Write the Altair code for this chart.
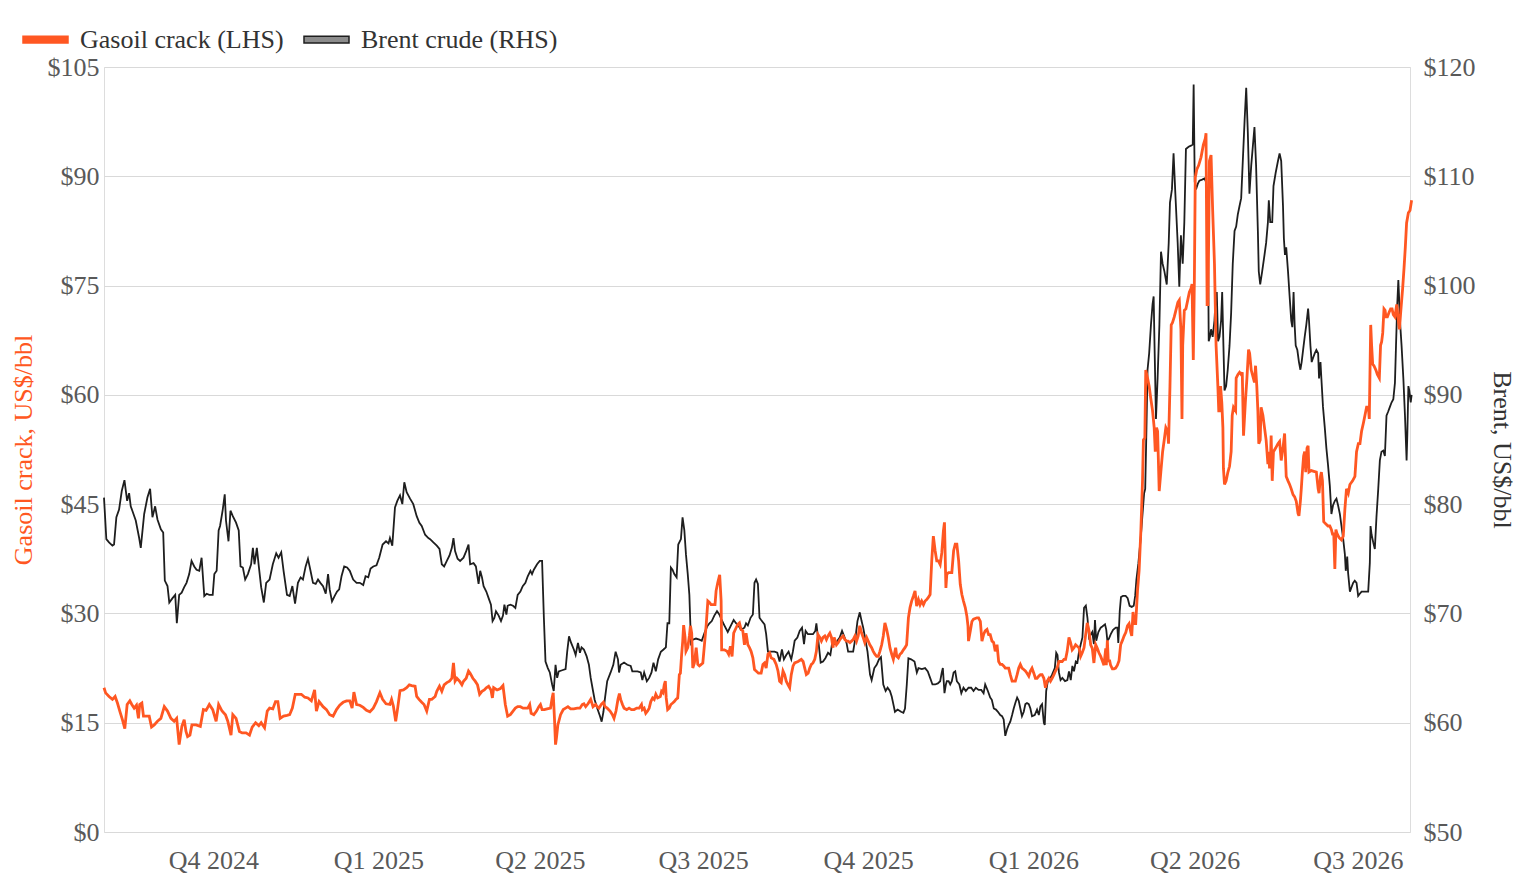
import altair as alt
import pandas as pd

FONT = "Liberation Serif"
ORANGE = "#FF5722"
BLACK = "#1e1e1e"
SERIES_G = "Gasoil crack (LHS)"
SERIES_B = "Brent crude (RHS)"
START = "2024-08-01"

# ---- Brent crude, US$/bbl (days after 1 Aug 2024, value) ----
brent_days_a = [0, 1.3, 2.8, 4.7, 5.6, 6.9, 8.4, 9.9, 11.4, 12.9,
                14.0, 14.9, 15.8, 17.7, 19.6, 20.5, 22.4, 24.2, 25.7, 27.0,
                28.5, 29.8, 31.7, 33.0, 33.9, 35.4, 36.4, 38.2, 39.7, 40.6,
                41.9, 43.3, 44.7, 46.0, 47.5, 48.8, 50.3, 51.6, 53.1, 54.4,
                55.9, 57.2, 58.7, 60.6, 61.5, 62.8, 63.9, 64.7, 66.2, 67.3,
                68.0, 69.4, 70.5, 71.8, 73.6, 75.1, 76.1, 77.4, 78.7, 80.2,
                82.0, 83.0, 83.9, 85.2, 86.3, 87.6, 89.1, 90.4, 92.3, 94.1,
                96.0, 97.3, 98.8, 100.1, 102.0, 103.5, 105.0, 106.5, 108.1, 109.6,
                110.9, 112.4, 113.7, 115.0, 116.5, 118.0, 119.3, 120.6, 122.1, 123.6,
                124.9, 125.8, 127.1, 128.6, 129.9, 131.1, 132.4, 133.9, 135.5, 137.0,
                138.9, 140.8, 142.6, 144.5, 145.8, 147.3, 148.6, 150.1, 151.9, 153.4,
                155.3, 157.2, 158.6, 159.4, 160.7, 162.2, 163.5, 165.0, 166.3, 167.4,
                168.7, 170.6, 172.4, 174.3, 175.8, 177.1, 179.0, 180.8, 181.8, 183.6,
                185.5, 187.0]
brent_usd_a = [80.6, 76.8, 76.5, 76.2, 76.3, 78.8, 79.5, 81.2, 82.2, 80.3,
               81.0, 79.8, 79.4, 78.5, 76.9, 76.0, 79.1, 80.6, 81.4, 78.8,
               79.8, 78.6, 77.7, 77.4, 73.0, 72.5, 71.0, 71.4, 71.7, 69.1,
               71.7, 71.9, 72.4, 72.8, 73.6, 74.8, 74.3, 74.0, 73.9, 75.1,
               71.6, 71.8, 71.7, 71.7, 73.6, 73.9, 77.6, 78.0, 79.5, 80.9,
               78.5, 76.6, 79.4, 78.9, 78.3, 77.6, 74.3, 74.2, 73.1, 73.6,
               74.5, 76.0, 74.5, 76.0, 74.3, 72.4, 71.0, 72.8, 73.1, 74.5,
               75.5, 75.1, 75.6, 73.9, 71.7, 71.6, 72.5, 70.9, 72.8, 73.3,
               73.1, 74.3, 75.0, 74.0, 72.8, 72.7, 73.1, 72.8, 72.5, 71.8,
               73.6, 72.2, 71.1, 71.6, 72.0, 72.2, 73.4, 74.3, 74.2, 73.9,
               73.1, 72.8, 72.8, 72.6, 73.4, 73.3, 74.1, 74.3, 74.4, 75.1,
               76.3, 76.6, 76.4, 76.9, 76.2, 79.7, 80.3, 80.8, 80.0, 82.0,
               81.1, 80.5, 80.0, 78.9, 78.3, 78.0, 77.2, 76.9, 76.8, 76.5,
               76.2, 75.9]

brent_days_b = [188.3, 189.6, 191.1, 192.6, 193.9, 194.8, 195.7, 197.1, 198.5, 200.4,
                201.9, 203.2, 204.1, 206.0, 207.3, 208.8, 209.7, 210.7, 211.6, 213.1,
                214.4, 215.7, 216.6, 217.6, 218.5, 220.0, 221.3, 222.4, 223.2, 224.3,
                225.0, 226.5, 228.0, 229.3, 230.6, 232.1, 233.4, 234.9, 236.2, 237.7,
                238.6, 239.6, 241.4, 242.9, 244.2, 245.2, 246.1, 247.4, 248.5, 249.8,
                250.7, 251.7, 252.6, 253.5, 255.4, 257.3, 258.2, 259.2, 260.4, 261.9,
                262.9, 264.2, 265.3, 266.2, 267.5, 269.0, 270.3, 271.3, 272.6, 273.5,
                275.0, 276.5, 277.4, 278.4, 279.3, 280.5, 282.4, 283.9, 285.2, 286.5,
                287.1, 288.0, 289.9, 291.7, 293.6, 294.5, 295.9, 297.4, 299.2, 300.1,
                301.1, 302.6, 303.9, 305.2, 306.3, 307.6, 308.9, 310.4, 311.9, 313.2,
                314.1, 315.1, 316.0, 316.9, 317.9, 319.2, 320.1, 321.6, 322.5, 323.5,
                324.4, 325.4, 326.3, 327.2, 328.2, 330.0, 331.9, 333.2, 334.7, 336.2,
                337.5, 338.8, 340.2, 341.7, 343.0, 344.3, 345.8, 347.7, 349.5, 351.0,
                352.3, 353.6, 355.1, 357.0, 357.9, 358.9, 360.4, 361.7, 362.6, 363.5,
                364.5, 365.4]
brent_usd_b = [74.5, 74.3, 74.8, 75.3, 76.0, 76.9, 75.7, 75.0, 74.8, 75.1,
               75.7, 76.3, 74.5, 74.6, 74.3, 72.7, 73.9, 73.3, 72.5, 72.0,
               71.4, 70.8, 69.3, 69.6, 70.2, 69.8, 69.3, 69.8, 70.8, 69.9,
               70.7, 70.8, 70.7, 70.5, 71.7, 72.0, 72.5, 72.8, 73.4, 73.9,
               73.6, 74.0, 74.5, 74.8, 74.8, 69.6, 65.6, 65.0, 64.6, 63.5,
               62.9, 65.3, 64.1, 64.7, 64.8, 64.9, 66.5, 67.9, 67.3, 66.7,
               66.2, 67.3, 66.4, 66.9, 66.7, 66.1, 65.3, 64.1, 62.9, 62.1,
               61.3, 60.6, 60.1, 61.0, 62.3, 63.8, 64.6, 65.3, 66.5, 65.8,
               64.6, 65.3, 65.5, 65.3, 65.2, 64.7, 64.7, 64.7, 64.6, 63.9,
               64.6, 63.8, 64.1, 64.6, 65.5, 64.7, 65.8, 66.5, 66.7, 66.9,
               69.1, 69.1, 74.2, 74.0, 73.6, 73.3, 76.3, 76.8, 78.8, 77.6,
               75.4, 73.6, 71.7, 67.3, 67.6, 67.7, 67.6, 67.5, 68.2, 68.8,
               69.1, 69.3, 69.8, 70.2, 69.9, 69.4, 68.9, 68.3, 68.9, 69.4,
               69.1, 68.9, 68.5, 68.7, 69.1, 68.9, 69.6, 69.9, 72.8, 73.1,
               72.7, 69.6]

brent_days_c = [366.3, 368.2, 369.1, 370.1, 371.6, 373.8, 375.3, 376.6, 377.9, 379.0,
                380.3, 381.6, 383.1, 384.0, 385.0, 386.5, 387.8, 389.1, 390.2, 391.1,
                392.4, 393.9, 395.2, 396.5, 397.1, 398.0, 399.5, 400.8, 402.1, 403.6,
                404.9, 405.8, 407.3, 408.8, 410.1, 411.4, 412.6, 413.9, 414.8, 416.3,
                417.6, 418.9, 420.0, 421.3, 422.3, 423.2, 424.2, 425.6, 427.0, 427.9,
                429.4, 430.7, 432.0, 433.1, 434.4, 435.7, 436.8, 438.1, 439.1, 440.0,
                440.9, 442.4, 444.3, 445.6, 446.5, 447.5, 448.4, 449.9, 451.8, 453.1,
                454.0, 455.9, 457.7, 459.2, 460.5, 461.8, 463.3, 464.8, 466.1, 467.0,
                467.6, 468.5, 469.3, 469.8, 470.8, 471.7, 472.6, 473.6, 474.5, 475.4,
                476.8, 477.9, 479.1, 480.4, 481.9, 483.4, 484.7, 486.0, 487.5, 489.0,
                490.3, 491.2, 492.7, 494.0, 494.9, 496.0, 497.2, 498.3, 499.6, 500.6,
                501.5, 502.4, 503.4, 504.3, 505.2, 506.2, 507.1, 508.0, 509.0, 509.9,
                510.8, 511.7, 512.7, 513.6, 514.5, 515.5, 516.4, 517.3, 518.8, 520.1,
                521.1, 522.0, 522.9, 523.9, 524.4, 525.2, 525.9, 526.7, 527.6, 528.5,
                530.0, 530.8, 531.5, 532.3, 533.2, 534.2, 535.7, 537.0, 537.9, 538.9,
                539.8, 540.7, 541.7, 542.6, 543.5, 544.5, 545.4, 546.3, 547.3, 548.2,
                549.1]
brent_usd_c = [69.4, 69.0, 68.1, 66.5, 66.5, 66.5, 66.4, 65.6, 66.7, 65.8,
               66.2, 66.5, 65.8, 66.5, 67.5, 67.8, 68.4, 68.7, 67.2, 68.4,
               68.1, 68.1, 68.1, 68.4, 69.1, 67.8, 65.5, 65.6, 65.9, 66.4,
               66.2, 67.2, 67.2, 67.5, 67.8, 68.4, 67.9, 67.3, 66.5, 66.5,
               66.5, 67.8, 69.3, 70.1, 69.3, 68.7, 67.8, 66.5, 64.4, 63.9,
               65.0, 65.3, 65.8, 66.0, 63.5, 62.9, 63.2, 62.9, 62.4, 61.7,
               61.0, 61.2, 61.0, 60.9, 61.3, 63.5, 65.9, 65.8, 65.6, 64.6,
               65.0, 64.9, 65.0, 64.7, 64.1, 63.5, 63.5, 63.6, 63.8, 64.6,
               65.0, 62.7, 63.5, 63.8, 63.8, 63.5, 63.8, 64.6, 64.7, 63.8,
               63.5, 62.7, 63.2, 62.9, 63.2, 63.2, 62.9, 63.2, 63.0, 63.0,
               62.7, 63.5, 62.9, 62.3, 62.1, 61.3, 61.2, 61.0, 60.7, 60.6,
               60.3, 58.8, 59.4, 59.8, 60.1, 60.7, 61.3, 61.8, 62.3, 62.0,
               61.3, 60.6, 61.0, 61.7, 61.8, 61.7, 61.3, 60.6, 60.7, 61.2,
               60.7, 61.5, 61.7, 60.0, 59.8, 62.9, 63.6, 64.1, 64.1, 64.4,
               65.0, 66.4, 66.2, 64.6, 63.9, 64.1, 63.8, 63.9, 64.7, 63.9,
               65.2, 64.7, 65.6, 65.5, 66.5, 67.2, 67.8, 70.5, 70.7, 69.6,
               67.8]

brent_days_d = [550.9, 551.8, 552.4, 553.1, 554.3, 555.6, 556.5, 558.0, 558.7, 559.3,
                560.2, 561.2, 562.5, 564.0, 564.9, 565.4, 566.2, 566.9, 568.0, 569.5,
                570.6, 571.7, 572.9, 574.0, 574.8, 575.5, 576.6, 577.9, 578.9, 579.8,
                580.4, 581.1, 581.7, 582.6, 583.6, 584.5, 585.1, 585.6, 586.4, 587.3,
                588.3, 589.2, 590.1, 591.1, 592.4, 593.5, 594.2, 595.3, 596.2, 597.2,
                598.5, 599.4, 600.3, 601.3, 602.2, 603.1, 604.6, 605.9, 606.9, 607.4,
                608.0, 608.7, 609.7, 610.6, 612.1, 613.4, 614.3, 615.3, 615.8, 616.5,
                617.1, 618.0, 619.0, 619.5, 620.3, 621.0, 621.8, 622.7, 623.3, 624.0,
                624.6, 625.5, 626.4, 627.4, 628.3, 629.2, 630.2, 631.1, 632.0, 633.0,
                633.9, 634.8, 635.8, 636.7, 637.6, 638.5, 639.5]
brent_usd_d = [68.3, 67.2, 69.4, 67.5, 68.3, 68.7, 68.8, 69.0, 68.5, 67.5,
               67.7, 68.1, 68.5, 68.7, 68.7, 67.3, 70.2, 71.5, 71.6, 71.6,
               71.4, 70.7, 70.6, 70.7, 71.6, 73.1, 74.6, 76.9, 79.1, 81.0,
               81.4, 87.0, 92.3, 93.8, 96.4, 98.3, 99.0, 94.5, 87.8, 91.5,
               96.4, 103.1, 102.0, 101.3, 100.1, 103.9, 107.6, 108.8, 112.1, 108.4,
               103.9, 99.9, 104.6, 102.0, 105.8, 112.5, 112.7, 112.8, 112.9, 118.4,
               109.5, 108.8, 109.3, 109.6, 109.7, 109.8, 109.5, 106.5, 94.9, 95.3,
               96.0, 95.3, 96.8, 98.3, 99.4, 94.9, 95.3, 96.8, 99.4, 94.5,
               90.4, 90.8, 92.3, 94.5, 97.5, 102.0, 105.0, 105.4, 106.5, 107.3,
               108.0, 111.4, 115.1, 118.1, 114.0, 108.4, 111.0]

brent_days_e = [641.3, 642.2, 643.2, 643.7, 644.5, 645.6, 646.9, 647.8, 648.8, 649.3,
                650.1, 651.2, 651.9, 653.1, 654.4, 655.3, 656.2, 657.2, 657.7, 658.3,
                659.0, 660.0, 660.9, 661.8, 662.4, 663.1, 663.7, 664.3, 665.2, 666.1,
                666.9, 667.6, 668.4, 669.3, 670.2, 671.2, 671.7, 672.5, 673.2, 674.0,
                674.9, 675.8, 676.8, 677.3, 678.1, 678.6, 679.5, 680.5, 681.4, 682.3,
                683.3, 684.2, 685.1, 686.1, 687.0, 687.9, 688.9, 689.8, 690.7, 691.7,
                692.2, 693.0, 693.5, 694.5, 695.4, 696.3, 697.2, 698.2, 699.1, 700.0,
                701.0, 701.9, 703.8, 704.7, 705.6, 706.0, 706.6, 707.5, 708.4, 709.3,
                710.3, 711.2, 712.1, 713.1, 714.0, 714.9, 715.9, 716.8, 717.7, 718.7,
                719.6, 720.2, 720.9, 721.5, 722.0, 722.4, 723.3, 724.3, 725.2, 726.1,
                726.5, 727.1, 727.6, 728.4, 728.9]
brent_usd_e = [114.5, 111.0, 105.0, 101.3, 100.1, 101.3, 102.8, 103.9, 105.8, 107.8,
               105.8, 105.8, 109.1, 110.3, 111.4, 112.1, 111.4, 107.3, 104.3, 102.8,
               103.5, 101.3, 99.0, 96.8, 96.2, 99.4, 96.4, 94.5, 94.1, 93.0,
               92.3, 93.0, 94.1, 95.3, 96.4, 97.9, 96.8, 94.5, 93.0, 93.4,
               93.8, 94.1, 93.8, 91.5, 93.0, 91.5, 88.9, 87.0, 85.1, 83.6,
               81.7, 79.1, 79.9, 80.3, 80.5, 79.9, 79.1, 78.0, 76.9, 75.4,
               73.9, 75.2, 73.7, 72.0, 72.4, 72.8, 73.0, 72.8, 71.6, 71.8,
               72.0, 72.0, 72.0, 72.0, 74.6, 78.0, 77.2, 76.5, 75.9, 78.8,
               81.4, 84.0, 84.8, 84.9, 84.4, 88.1, 88.5, 88.9, 89.3, 89.6,
               91.1, 94.5, 98.3, 100.5, 98.6, 96.8, 94.5, 91.5, 88.1, 84.0,
               86.3, 90.8, 90.4, 89.3, 90.0]

# ---- Gasoil crack, US$/bbl ----
gasoil_days_a = [0, 0.9, 2.8, 4.7, 6.2, 7.5, 8.8, 10.3, 11.6, 12.9,
                 14.4, 15.5, 16.8, 18.1, 19.2, 19.9, 21.1, 22.0, 23.3, 25.2,
                 26.5, 28.0, 29.8, 31.7, 33.6, 35.4, 37.3, 39.1, 40.5, 41.9,
                 43.4, 44.7, 45.7, 46.6, 47.9, 49.0, 51.3, 53.7, 55.4, 56.9,
                 58.7, 60.6, 62.5, 63.9, 65.8, 67.7, 69.0, 70.8, 71.8, 73.6,
                 75.5, 77.0, 79.2, 81.1, 82.6, 84.5, 86.3, 87.6, 89.5, 91.0,
                 92.3, 94.1, 95.6, 96.9, 98.2, 100.1, 102.0, 103.5, 105.0, 106.6,
                 108.1, 110.0, 111.9, 113.7, 115.6, 117.4, 118.4, 119.9, 122.1, 124.0,
                 125.8, 127.7, 129.6, 131.4, 133.3, 135.2, 137.0, 138.3, 139.3, 140.8,
                 142.6, 144.5, 146.3, 148.2, 150.1, 151.9, 153.8, 155.3, 157.2, 159.4,
                 160.3, 161.3, 162.6, 163.7, 165.0, 166.9, 168.7, 170.2, 171.5, 173.4,
                 174.3, 175.6, 177.1, 178.4, 179.9, 181.4, 182.7, 184.6, 185.5, 187.0]
gasoil_usd_a = [19.8, 19.1, 18.6, 18.2, 18.6, 17.7, 16.6, 15.4, 14.2, 17.5,
                18.0, 17.5, 17.0, 17.4, 15.6, 17.5, 17.7, 15.9, 15.9, 15.9,
                14.4, 14.7, 15.2, 15.6, 17.2, 16.6, 15.6, 15.2, 15.6, 12.0,
                14.5, 15.4, 13.8, 13.1, 13.3, 14.7, 14.7, 14.5, 16.8, 16.7,
                17.5, 16.8, 15.2, 17.5, 16.6, 16.1, 15.2, 13.3, 16.1, 15.6,
                13.8, 13.6, 13.6, 13.3, 14.4, 15.0, 14.6, 15.0, 14.3, 16.6,
                17.0, 16.9, 17.9, 17.9, 15.6, 15.9, 16.0, 16.1, 17.0, 18.9,
                18.9, 18.9, 18.5, 18.4, 18.0, 19.5, 16.6, 17.9, 17.2, 16.8,
                16.1, 15.9, 16.8, 17.4, 17.8, 18.0, 18.0, 17.0, 19.2, 17.5,
                17.4, 17.1, 16.7, 16.5, 17.0, 17.9, 19.1, 18.2, 17.6, 17.5,
                18.2, 17.3, 15.2, 17.0, 19.4, 19.5, 19.8, 20.2, 20.1, 20.0,
                18.6, 18.2, 17.8, 17.5, 16.6, 18.2, 18.2, 18.6, 19.3, 20.0]

gasoil_days_b = [188.3, 189.6, 191.1, 192.6, 193.9, 194.8, 195.7, 196.7, 198.2, 199.5,
                 200.4, 201.9, 203.2, 204.1, 205.6, 206.9, 208.2, 209.4, 210.7, 212.0,
                 213.1, 214.4, 215.7, 216.5, 217.2, 219.1, 221.0, 222.4, 223.7, 225.0,
                 226.5, 228.0, 229.3, 230.6, 232.1, 233.6, 234.9, 236.2, 237.3, 238.1,
                 239.6, 241.1, 242.4, 243.3, 244.2, 245.5, 247.0, 248.9, 249.8, 250.4,
                 251.1, 251.7, 252.2, 253.0, 254.5, 256.0, 257.3, 258.6, 260.1, 261.9,
                 263.8, 265.3, 266.6, 267.5, 268.5, 269.8, 271.3, 272.6, 274.0, 275.0,
                 275.9, 277.2, 278.4, 279.3, 280.5, 282.1, 283.4, 284.3, 285.4, 286.5,
                 287.3, 288.0, 289.0, 289.9, 291.4, 292.7, 294.0, 295.5, 297.0, 298.3,
                 299.6, 300.1, 301.1, 302.0, 303.0, 303.9, 304.8, 305.8, 306.7, 307.6,
                 308.6, 310.1, 310.8, 311.6, 312.3, 312.9, 313.4, 314.2, 315.1, 316.0,
                 317.0, 317.9, 318.8, 319.8, 320.1, 320.7, 321.3, 322.0, 322.6, 323.1,
                 323.9, 324.4, 325.4, 326.3, 326.9, 327.6, 328.2, 329.1, 330.1, 331.0,
                 331.9, 332.9, 333.8, 334.7, 335.7, 336.6, 337.5, 338.4, 339.9, 340.6,
                 341.2, 342.1, 343.2, 344.0, 344.3, 345.8, 347.3, 348.2, 349.2, 350.1,
                 351.0, 352.3, 353.3, 354.2, 355.1, 356.1, 357.0, 357.9, 358.9, 359.8,
                 360.7, 361.7, 362.6, 363.5, 364.8]
gasoil_usd_b = [19.3, 20.2, 20.5, 20.7, 21.1, 23.2, 20.7, 21.1, 20.7, 20.2,
                20.7, 21.1, 22.1, 21.8, 21.1, 20.7, 20.2, 18.9, 19.3, 19.5,
                19.8, 20.0, 19.5, 18.4, 19.8, 19.5, 19.7, 20.1, 17.5, 15.9,
                16.1, 16.6, 17.0, 17.2, 17.2, 17.0, 17.0, 17.0, 17.5, 16.3,
                16.1, 16.6, 17.2, 17.5, 16.8, 16.8, 16.9, 17.0, 18.4, 19.1,
                15.6, 12.0, 12.9, 14.7, 16.1, 16.8, 17.0, 17.2, 16.9, 16.9,
                17.0, 17.0, 17.5, 17.6, 17.2, 17.6, 18.2, 17.2, 17.5, 17.2,
                17.0, 17.5, 17.8, 17.2, 17.0, 16.6, 16.1, 15.6, 16.6, 18.2,
                19.0, 18.2, 17.5, 17.0, 16.8, 17.0, 16.8, 16.8, 17.0, 17.0,
                17.5, 16.8, 17.0, 16.3, 16.6, 17.0, 17.9, 18.4, 18.2, 18.9,
                18.4, 18.6, 19.3, 19.1, 20.2, 20.7, 18.4, 16.8, 17.0, 17.5,
                17.7, 17.9, 18.2, 18.4, 19.3, 21.6, 21.8, 24.4, 26.2, 28.4,
                26.7, 24.8, 25.3, 26.9, 28.3, 27.3, 22.5, 23.2, 25.3, 23.0,
                22.8, 23.0, 23.2, 25.7, 28.5, 31.7, 31.5, 31.2, 31.2, 31.2,
                33.1, 34.2, 35.3, 31.7, 25.0, 25.0, 24.8, 24.4, 25.5, 24.1,
                27.3, 28.0, 28.5, 28.7, 27.8, 27.6, 25.7, 27.3, 25.7, 25.3,
                24.8, 23.9, 22.3, 22.1, 21.8]

gasoil_days_c = [366.3, 367.3, 368.2, 369.1, 370.1, 371.0, 371.9, 373.4, 374.7, 375.7,
                 376.6, 377.5, 378.5, 379.4, 380.3, 381.3, 382.2, 383.1, 384.1, 385.0,
                 386.9, 388.7, 389.7, 390.6, 391.5, 392.5, 393.4, 394.3, 395.2, 396.2,
                 397.1, 398.0, 399.0, 399.9, 400.8, 401.8, 402.7, 403.6, 404.6, 405.5,
                 406.4, 407.0, 408.3, 409.3, 410.2, 411.1, 412.0, 413.0, 413.9, 414.8,
                 415.8, 416.7, 417.6, 418.6, 419.5, 420.4, 421.3, 422.3, 423.2, 424.1,
                 425.1, 426.0, 426.9, 427.9, 428.8, 429.7, 430.7, 431.6, 432.5, 433.5,
                 434.4, 435.3, 436.3, 437.2, 438.1, 439.1, 440.0, 440.9, 441.3, 441.9,
                 442.8, 443.7, 444.6, 445.6, 446.5, 447.4, 448.4, 449.3, 450.2, 451.2,
                 452.1, 453.0, 454.0, 454.9, 455.8, 456.8, 457.7, 458.6, 459.5, 460.5,
                 461.4, 462.3, 463.3, 464.2, 465.1, 466.1, 467.0, 467.9, 468.5, 469.3,
                 469.8, 470.8, 471.7, 472.6, 473.6, 474.5, 475.4, 476.4, 477.3, 478.2,
                 479.1, 480.1, 481.0, 481.6, 481.9, 482.9, 483.8, 484.7, 486.6, 487.5,
                 488.5, 489.4, 490.3, 491.2, 492.2, 493.1, 494.0, 495.0, 495.9, 496.8,
                 497.8, 498.7, 499.6, 500.6, 501.5, 502.4, 504.3, 505.2, 506.2, 507.1,
                 508.0, 509.0, 509.9, 510.8, 511.7, 512.7, 513.6, 514.5, 515.5, 516.4,
                 517.3, 518.3, 519.2, 520.1, 521.1, 522.0, 522.9, 523.9, 524.8, 525.7,
                 526.7, 527.6, 528.5, 529.5, 530.4, 531.3, 532.3, 533.2, 534.1, 535.1,
                 536.0, 536.9, 537.9, 538.8, 539.7, 540.7, 541.6, 542.5, 543.5, 544.4,
                 545.3, 546.3, 547.2, 548.1, 549.1, 550.0]
gasoil_usd_c = [21.8, 23.0, 23.2, 22.5, 24.4, 24.6, 23.9, 23.7, 23.0, 22.1,
                20.7, 20.5, 22.1, 21.6, 20.7, 20.2, 19.8, 21.6, 22.8, 23.2,
                23.4, 23.7, 23.4, 22.5, 21.6, 21.8, 22.5, 23.0, 23.2, 23.7,
                24.8, 27.1, 26.7, 26.2, 26.7, 26.9, 26.4, 26.9, 27.3, 26.7,
                25.3, 26.7, 25.7, 26.0, 26.4, 26.7, 26.9, 26.4, 26.2, 26.2,
                26.0, 26.2, 26.4, 26.9, 26.2, 26.9, 28.3, 27.3, 26.7, 26.0,
                26.7, 26.2, 25.7, 25.3, 24.8, 24.4, 24.1, 24.1, 24.8, 25.7,
                26.9, 28.7, 27.8, 26.7, 25.3, 24.4, 23.7, 24.8, 25.3, 24.1,
                23.9, 24.4, 24.6, 25.0, 25.3, 25.7, 29.4, 30.8, 31.7, 32.4,
                33.1, 31.0, 31.9, 31.2, 31.7, 31.2, 31.7, 31.9, 32.2, 32.6,
                37.2, 40.6, 38.6, 37.2, 37.2, 36.7, 38.3, 41.3, 42.5, 33.5,
                35.4, 35.6, 35.6, 35.6, 38.6, 39.5, 39.5, 37.2, 34.0, 32.6,
                31.7, 30.8, 29.6, 28.3, 26.2, 27.6, 28.9, 29.2, 29.4, 29.4,
                28.9, 26.2, 27.1, 27.6, 27.8, 27.1, 27.1, 26.2, 26.0, 24.8,
                25.7, 23.4, 23.0, 23.0, 22.8, 22.5, 22.5, 21.6, 20.7, 20.7,
                20.7, 21.6, 22.5, 23.0, 22.5, 22.3, 22.1, 21.8, 21.4, 22.1,
                22.5, 21.8, 21.1, 21.1, 21.4, 21.6, 21.6, 21.1, 19.8, 20.7,
                21.1, 20.7, 21.1, 21.6, 22.1, 22.5, 23.4, 23.4, 23.4, 23.7,
                23.7, 24.8, 26.7, 26.0, 25.0, 25.3, 25.7, 25.5, 25.3, 24.1,
                24.6, 25.3, 27.1, 28.7, 27.6, 25.7]

gasoil_days_d = [550.9, 551.8, 552.8, 553.7, 554.6, 555.6, 556.5, 557.4, 558.4, 558.7,
                 559.3, 559.8, 560.6, 561.1, 562.1, 563.0, 563.9, 564.9, 565.8, 566.7,
                 567.7, 568.6, 569.6, 570.5, 571.4, 572.4, 572.9, 573.6, 574.2, 575.1,
                 576.1, 577.0, 578.0, 578.9, 579.4, 580.2, 580.7, 581.7, 582.6, 583.5,
                 584.5, 585.4, 586.0, 586.7, 587.3, 588.2, 589.1, 590.1, 591.0, 591.9,
                 592.9, 593.4, 594.2, 594.9, 595.6, 596.6, 597.5, 598.6, 599.4, 600.3,
                 600.9, 601.3, 602.2, 603.1, 604.1, 605.0, 605.9, 606.5, 607.2, 607.8,
                 608.3, 609.1, 610.2, 611.5, 612.8, 613.9, 614.3, 614.9, 615.4, 616.2,
                 617.1, 618.0, 619.0, 619.9, 620.9, 621.4, 621.8, 622.4, 623.1, 623.7,
                 624.0, 624.6, 625.5, 626.5, 627.4, 628.3, 628.9, 629.6, 630.8, 631.1,
                 632.1, 633.0, 633.9, 634.5, 635.2, 636.2, 637.1, 638.0, 638.6, 639.5]
gasoil_usd_d = [25.2, 23.2, 25.7, 25.2, 24.6, 24.1, 23.5, 22.9, 25.2, 22.9,
                26.3, 23.5, 23.5, 22.9, 22.4, 22.4, 22.5, 22.9, 23.5, 25.7,
                26.3, 26.9, 27.4, 28.3, 28.6, 27.4, 26.9, 30.2, 28.6, 28.6,
                33.1, 35.9, 41.5, 48.2, 53.8, 54.1, 63.4, 62.3, 61.2, 59.5,
                57.8, 55.5, 52.2, 55.5, 55.0, 46.8, 49.4, 52.2, 53.8, 55.5,
                55.0, 53.3, 61.2, 69.6, 69.9, 70.7, 71.6, 72.7, 73.0, 69.0,
                56.7, 66.8, 71.6, 71.8, 73.0, 74.1, 74.6, 75.2, 64.8, 75.8,
                89.8, 90.9, 91.5, 92.6, 94.3, 95.2, 95.9, 72.4, 72.4, 92.1,
                92.9, 85.3, 78.0, 66.8, 61.2, 57.8, 57.8, 61.2, 58.9, 55.5,
                49.9, 47.7, 48.2, 49.4, 50.2, 52.2, 57.2, 58.3, 57.8, 62.3,
                62.8, 63.1, 62.8, 63.1, 54.4, 58.9, 62.3, 66.2, 65.7, 63.4]

gasoil_days_e = [641.3, 641.9, 642.6, 643.2, 643.7, 644.5, 645.0, 646.0, 646.9, 647.8,
                 648.8, 649.3, 649.7, 650.2, 650.6, 651.2, 651.9, 653.1, 654.4, 655.3,
                 656.2, 657.2, 658.1, 659.0, 660.0, 660.9, 661.8, 662.8, 663.7, 664.6,
                 665.6, 666.1, 666.9, 667.4, 668.0, 668.7, 669.3, 669.9, 670.6, 671.2,
                 671.7, 673.0, 674.4, 675.8, 676.8, 677.3, 678.1, 678.6, 679.2, 679.9,
                 681.0, 682.3, 683.3, 684.2, 684.8, 685.5, 686.1, 686.7, 687.4, 688.5,
                 689.8, 690.8, 691.7, 692.6, 693.6, 694.5, 696.0, 697.3, 698.2, 699.2,
                 700.1, 701.0, 702.0, 702.9, 703.8, 704.8, 705.3, 706.1, 706.6, 707.2,
                 707.9, 709.0, 709.8, 710.9, 711.6, 712.2, 712.8, 713.5, 714.1, 714.6,
                 715.4, 716.3, 717.2, 718.0, 718.7, 719.6, 720.6, 721.5, 722.1, 722.8,
                 723.9, 724.7, 725.4, 726.1, 727.1, 728.0, 728.9]
gasoil_usd_e = [61.7, 64.0, 61.2, 57.8, 53.3, 53.8, 58.3, 57.2, 55.5, 53.8,
                50.5, 52.2, 49.9, 51.0, 54.4, 48.2, 52.2, 52.7, 53.3, 53.6,
                51.0, 52.7, 54.7, 48.8, 48.2, 47.7, 47.1, 46.3, 46.0, 45.4,
                43.7, 43.4, 45.4, 47.1, 49.4, 51.6, 52.2, 49.4, 52.7, 53.0,
                49.4, 49.6, 49.5, 49.4, 47.1, 46.5, 48.8, 49.4, 48.2, 42.6,
                42.3, 42.0, 42.0, 41.5, 40.9, 40.9, 36.1, 41.5, 40.9, 40.4,
                40.1, 40.6, 44.3, 47.1, 46.5, 47.7, 48.2, 48.8, 52.2, 53.3,
                53.3, 55.0, 56.1, 57.2, 58.3, 58.3, 56.7, 69.6, 66.8, 64.2,
                64.0, 63.4, 62.8, 62.3, 66.8, 67.3, 68.5, 71.8, 71.6, 70.7,
                70.7, 71.3, 71.8, 71.8, 71.0, 70.7, 72.4, 70.2, 69.0, 71.3,
                74.6, 77.5, 80.3, 83.6, 85.0, 85.3, 86.7]

left_ticks = [0, 15, 30, 45, 60, 75, 90, 105]
right_ticks = [50, 60, 70, 80, 90, 100, 110, 120]
quarter_starts = [(2024, 10), (2025, 1), (2025, 4), (2025, 7),
                  (2025, 10), (2026, 1), (2026, 4), (2026, 7)]


def build(segments, name):
    days, vals = [], []
    for d, v in segments:
        assert len(d) == len(v), (name, len(d), len(v))
        days += d
        vals += v
    dates = pd.Timestamp(START) + pd.to_timedelta(days, unit="D")
    return pd.DataFrame({"date": dates, "value": vals, "series": name})


brent = build([(brent_days_a, brent_usd_a), (brent_days_b, brent_usd_b),
               (brent_days_c, brent_usd_c), (brent_days_d, brent_usd_d),
               (brent_days_e, brent_usd_e)], SERIES_B)
gasoil = build([(gasoil_days_a, gasoil_usd_a), (gasoil_days_b, gasoil_usd_b),
                (gasoil_days_c, gasoil_usd_c), (gasoil_days_d, gasoil_usd_d),
                (gasoil_days_e, gasoil_usd_e)], SERIES_G)

x_enc = alt.X(
    "date:T",
    scale=alt.Scale(domain=[alt.DateTime(year=2024, month=8, date=1),
                            alt.DateTime(year=2026, month=7, date=30)]),
    axis=alt.Axis(
        values=[alt.DateTime(year=y, month=m, date=1) for y, m in quarter_starts],
        labelExpr="'Q' + quarter(datum.value) + ' ' + year(datum.value)",
        grid=False, ticks=False, domain=False, labelFlush=False,
        labelPadding=15, title=None, labelFont=FONT, labelFontSize=26,
        labelColor="#595959"),
)

legend_style = dict(
    title=None, orient="none", legendY=-51, direction="horizontal",
    symbolType="M-1,-0.15L1,-0.15L1,0.15L-1,0.15Z", symbolSize=2025,
    symbolStrokeWidth=1.5, labelFont=FONT, labelFontSize=26,
    labelColor="#333333", labelOffset=11, labelLimit=0, padding=0,
)

brent_line = alt.Chart(brent).mark_line(strokeWidth=1.8).encode(
    x=x_enc,
    y=alt.Y("value:Q",
            scale=alt.Scale(domain=[50, 120], nice=False, zero=False),
            axis=alt.Axis(orient="right", values=right_ticks,
                          labelExpr="'$' + datum.value", grid=False,
                          ticks=False, domain=False, labelPadding=13,
                          labelFont=FONT, labelFontSize=26, labelColor="#595959",
                          title="Brent, US$/bbl", titleFont=FONT,
                          titleFontSize=26, titleFontWeight="normal",
                          titleColor="#333333", titlePadding=13)),
    stroke=alt.Stroke("series:N",
                      scale=alt.Scale(domain=[SERIES_B], range=[BLACK]),
                      legend=alt.Legend(legendX=199, symbolFillColor="#8c8c8c",
                                        **legend_style)),
)
gasoil_line = alt.Chart(gasoil).mark_line(strokeWidth=2.8).encode(
    x=x_enc,
    y=alt.Y("value:Q",
            scale=alt.Scale(domain=[0, 105], nice=False, zero=False),
            axis=alt.Axis(orient="left", values=left_ticks,
                          labelExpr="'$' + datum.value", grid=True,
                          gridColor="#d9d9d9", gridWidth=1,
                          ticks=False, domain=False, labelPadding=5,
                          labelFont=FONT, labelFontSize=26, labelColor="#595959",
                          title="Gasoil crack, US$/bbl", titleFont=FONT,
                          titleFontSize=26, titleFontWeight="normal",
                          titleColor=ORANGE, titlePadding=11)),
    color=alt.Color("series:N",
                    scale=alt.Scale(domain=[SERIES_G], range=[ORANGE]),
                    legend=alt.Legend(legendX=-82, symbolFillColor=ORANGE,
                                      **legend_style)),
)

chart = (
    alt.layer(brent_line, gasoil_line)
    .resolve_scale(y="independent")
    .properties(
        width=1306, height=765,
        padding={"left": 96, "top": 59, "right": 106, "bottom": 44},
        autosize=alt.AutoSizeParams(type="none"),
        background="white",
    )
    .configure_view(stroke=None)
    .configure(font=FONT)
)

chart.save("out.html", embed_options={"renderer": "svg", "actions": False})
